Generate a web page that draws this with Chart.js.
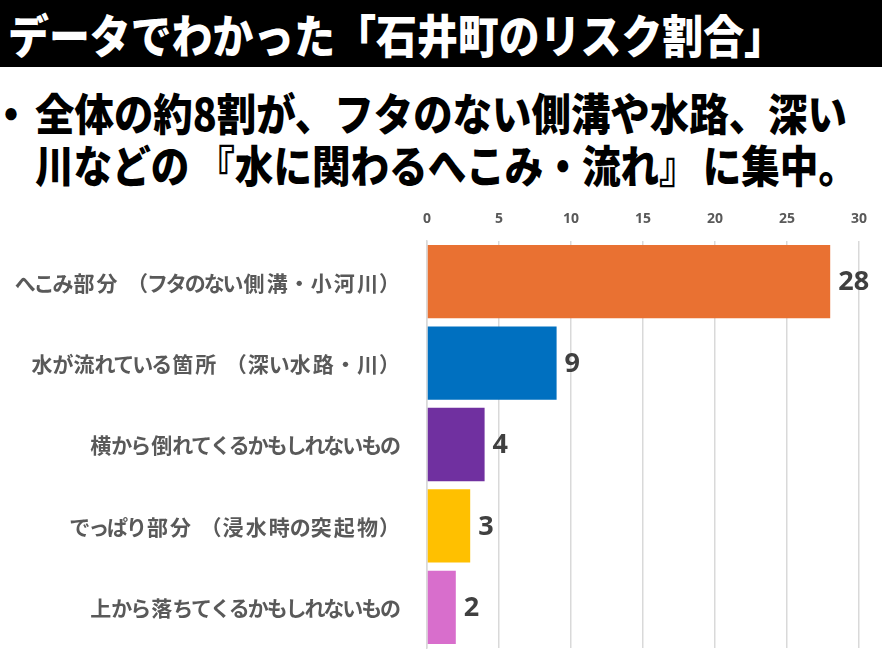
<!DOCTYPE html>
<html lang="ja"><head><meta charset="utf-8">
<script src="https://cdn.jsdelivr.net/npm/chart.js@4.4.1/dist/chart.umd.min.js"></script>
<style>
html,body{margin:0;padding:0;background:#fff;width:882px;height:661px;overflow:hidden;}
#banner{position:absolute;left:0;top:0;width:882px;height:67px;background:#000;}
.t{position:absolute;white-space:nowrap;font-family:"Noto Sans CJK JP","Noto Sans CJK SC",sans-serif;font-weight:900;transform-origin:0 0;line-height:1;}
.ob{margin-left:0.18em;}
.cb{margin-right:0.13em;}
#title{color:#fff;font-size:46px;left:8px;top:10px;}
#bullet{color:#000;font-size:44px;left:-9px;top:90px;}
#line1{color:#000;font-size:44px;left:35px;top:90px;}
#line2{color:#000;font-size:44px;left:35px;top:142px;}
#wrap{position:absolute;left:0;top:200px;width:882px;height:461px;}
</style>
</head>
<body>
<div id="banner"></div>
<div class="t" id="title">データでわかった「石井町のリスク割合」</div>
<div class="t" id="bullet">・</div>
<div class="t" id="line1">全体の約8割が、フタのない側溝や水路、深い</div>
<div class="t" id="line2">川などの<span class="ob">『</span>水に関わるへこみ・流れ<span class="cb">』</span>に集中。</div>
<div id="wrap"><canvas id="c" width="882" height="461"></canvas></div>
<script>
const categories = [
  "へこみ部分（フタのない側溝・小河川）",
  "水が流れている箇所（深い水路・川）",
  "横から倒れてくるかもしれないもの",
  "でっぱり部分（浸水時の突起物）",
  "上から落ちてくるかもしれないもの"
];
const values = [28, 9, 4, 3, 2];
const barColors = ["#E97132", "#0070C0", "#7030A0", "#FFC000", "#D86ECC"];
const xMin = 0, xMax = 30, xStep = 5;

// fit headline texts horizontally
function fit(id, width){
  const el = document.getElementById(id);
  const w = el.getBoundingClientRect().width;
  el.style.transform = "scaleX(" + (width / w) + ")";
}
fit("title", 777);
fit("line1", 812);
fit("line2", 822);
fit("bullet", 40);

// category labels: source font has narrower kana and wider kanji
const labelSize = 21;
function advanceOf(ch){
  const c = ch.codePointAt(0);
  if (ch === "（") return 1.4;
  if (ch === "）" || ch === "・") return 1.0;
  if (c >= 0x3040 && c <= 0x30FF) return 0.9;
  return 1.1;
}
const categoryLabels = {
  id: "categoryLabels",
  afterDraw(chart){
    const ctx = chart.ctx;
    const yScale = chart.scales.y;
    ctx.save();
    ctx.font = "bold " + labelSize + "px 'Noto Sans CJK JP', sans-serif";
    ctx.fillStyle = "#595959";
    ctx.textBaseline = "middle";
    const right = yScale.right - 27;
    categories.forEach((text, i) => {
      const y = yScale.getPixelForTick(i) + 1;
      const chars = Array.from(text);
      const total = chars.reduce((s, ch) => s + advanceOf(ch) * labelSize, 0);
      let x = right - total;
      chars.forEach(ch => {
        const adv = advanceOf(ch) * labelSize;
        if (ch === "（"){
          ctx.textAlign = "right";
          ctx.fillText(ch, x + adv, y);
        } else if (ch === "）"){
          ctx.textAlign = "left";
          ctx.fillText(ch, x, y);
        } else {
          ctx.textAlign = "center";
          ctx.fillText(ch, x + adv / 2, y);
        }
        x += adv;
      });
    });
    ctx.restore();
  }
};

const valueLabels = {
  id: "valueLabels",
  afterDatasetsDraw(chart){
    const ctx = chart.ctx;
    const meta = chart.getDatasetMeta(0);
    ctx.save();
    ctx.font = "bold 27px 'Noto Sans', sans-serif";
    ctx.fillStyle = "#404040";
    ctx.textAlign = "left";
    ctx.textBaseline = "middle";
    meta.data.forEach((bar, i) => {
      ctx.fillText(String(values[i]), bar.x + 8, bar.y + 1);
    });
    ctx.restore();
  }
};

new Chart(document.getElementById("c"), {
  type: "bar",
  data: {
    labels: categories,
    datasets: [{
      data: values,
      backgroundColor: barColors,
      borderWidth: 0,
      barPercentage: 0.9,
      categoryPercentage: 1.0
    }]
  },
  options: {
    indexAxis: "y",
    responsive: false,
    animation: false,
    devicePixelRatio: 1,
    layout: { padding: { top: 0, right: 23, bottom: 13, left: 0 } },
    plugins: { legend: { display: false }, tooltip: { enabled: false } },
    scales: {
      x: {
        position: "top",
        min: xMin, max: xMax,
        ticks: {
          stepSize: xStep,
          color: "#595959",
          font: { family: "'Noto Sans', sans-serif", weight: "bold", size: 14 },
          padding: 14
        },
        grid: { color: "#d9d9d9", lineWidth: 1.5, drawTicks: false },
        border: { display: false },
        afterFit(scale){ scale.height = 41; scale.paddingLeft = 0; scale.paddingRight = 0; }
      },
      y: {
        ticks: { display: false },
        grid: { display: false },
        border: { color: "#d9d9d9", width: 1.5 },
        afterFit(scale){ scale.width = 427; scale.paddingTop = 0; scale.paddingBottom = 0; }
      }
    }
  },
  plugins: [valueLabels, categoryLabels]
});
</script>
</body></html>
